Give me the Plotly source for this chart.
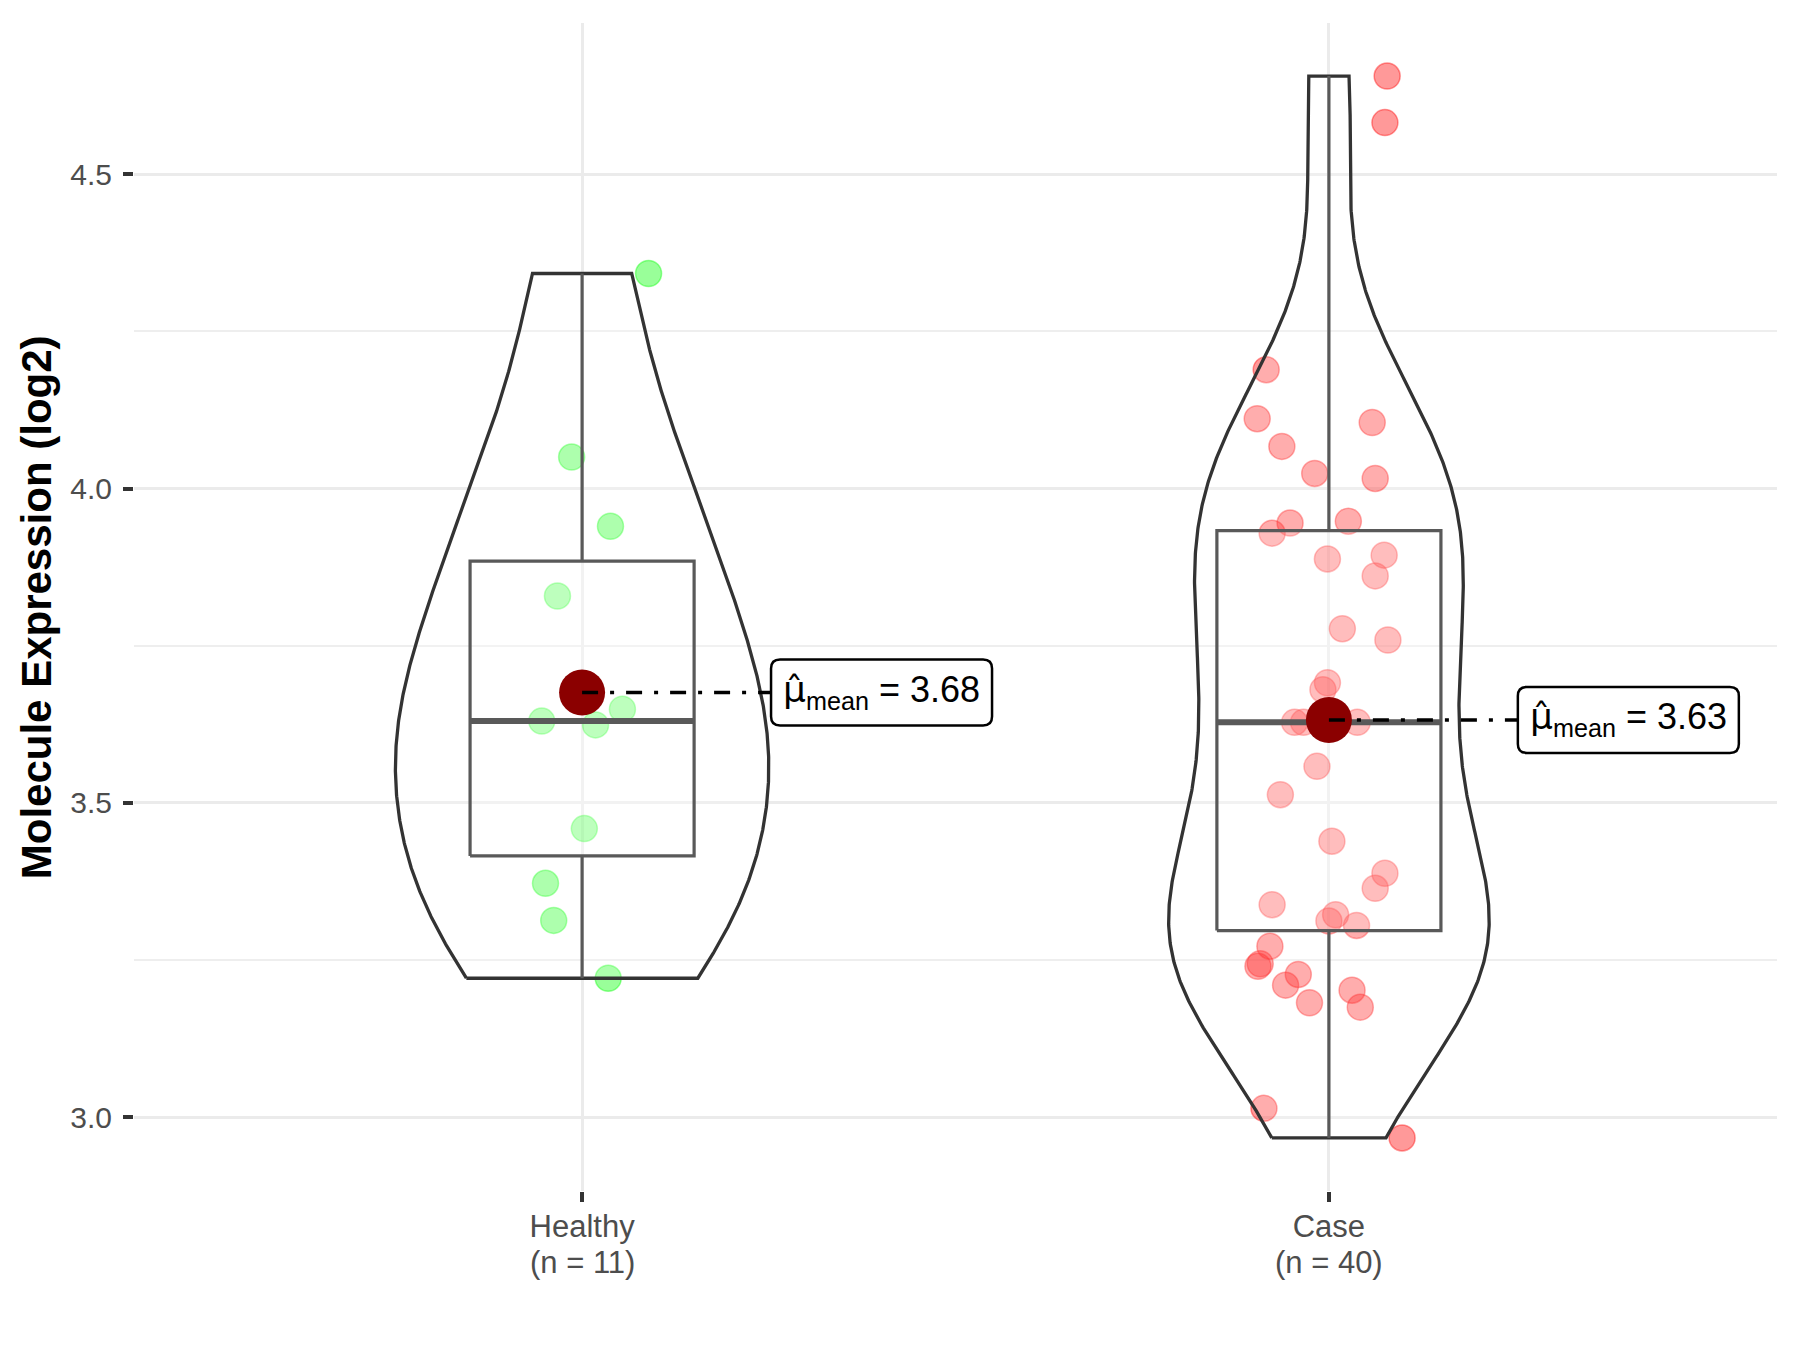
import numpy as np
import plotly.graph_objects as go

# ---------------- data ----------------
categories = ["Healthy", "Case"]
y_ticks = [3.0, 3.5, 4.0, 4.5]

healthy_values = [4.342, 4.050, 3.940, 3.829, 3.649, 3.630, 3.624, 3.459, 3.372, 3.313, 3.221]
healthy_jitter = [0.089, -0.014, 0.038, -0.033, 0.054, -0.054, 0.018, 0.003, -0.049, -0.038, 0.035]

case_values = [4.656, 4.582, 4.189, 4.111, 4.105, 4.067, 4.024, 4.016, 3.945, 3.929,
               3.948, 3.888, 3.894, 3.861, 3.777, 3.759, 3.691, 3.680, 3.628, 3.628,
               3.628, 3.558, 3.513, 3.439, 3.388, 3.364, 3.338, 3.322, 3.312, 3.305,
               3.272, 3.244, 3.240, 3.227, 3.210, 3.202, 3.182, 3.175, 3.014, 2.967]
case_jitter = [0.078, 0.075, -0.084, -0.096, 0.058, -0.063, -0.019, 0.062, -0.052, -0.076,
               0.026, -0.002, 0.074, 0.062, 0.018, 0.079, -0.002, -0.008, -0.046, -0.034,
               0.038, -0.016, -0.065, 0.004, 0.075, 0.062, -0.076, 0.009, 0.000, 0.037,
               -0.079, -0.092, -0.095, -0.041, -0.058, 0.031, -0.026, 0.042, -0.087, 0.098]

# ---------------- style ----------------
FONT = "Liberation Sans, Arial, sans-serif"
point_rgb = {"Healthy": "0,255,0", "Case": "255,0,0"}
label_offset = 0.253
violin_width = 0.5
box_width = 0.3
LABEL_W, LABEL_H, LABEL_R = 221, 66, 9

groups = [
    ("Healthy", 1, np.array(healthy_values), np.array(healthy_jitter)),
    ("Case", 2, np.array(case_values), np.array(case_jitter)),
]


def kde(vals, n=512):
    sd = vals.std(ddof=1)
    q75, q25 = np.percentile(vals, [75, 25])
    lo = min(sd, (q75 - q25) / 1.34)
    bw = 0.9 * lo * len(vals) ** -0.2
    grid = np.linspace(vals.min(), vals.max(), n)
    d = np.exp(-0.5 * ((grid[:, None] - vals[None, :]) / bw) ** 2).sum(1)
    d /= len(vals) * bw * np.sqrt(2 * np.pi)
    return grid, d


def rounded_rect(w, h, r):
    hh = h / 2
    return (f"M {r},{-hh} L {w - r},{-hh} Q {w},{-hh} {w},{-hh + r} "
            f"L {w},{hh - r} Q {w},{hh} {w - r},{hh} L {r},{hh} "
            f"Q 0,{hh} 0,{hh - r} L 0,{-hh + r} Q 0,{-hh} {r},{-hh} Z")


dens = {name: kde(v) for name, _, v, _ in groups}
gmax = max(d.max() for _, d in dens.values())

fig = go.Figure()

# jittered points (bottom layer)
for name, pos, vals, jit in groups:
    rgb = point_rgb[name]
    fig.add_trace(go.Scatter(
        x=pos + jit, y=vals, mode="markers",
        marker=dict(size=26, color=f"rgba({rgb},0.4)",
                    line=dict(color=f"rgba({rgb},0.4)", width=1.5)),
        showlegend=False, hoverinfo="y"))

# violins
for name, pos, vals, jit in groups:
    grid, d = dens[name]
    half = d / gmax * violin_width / 2
    xs = np.concatenate([pos - half, (pos + half)[::-1], [pos - half[0]]])
    ys = np.concatenate([grid, grid[::-1], [grid[0]]])
    fig.add_trace(go.Scatter(
        x=xs, y=ys, mode="lines", fill="toself",
        fillcolor="rgba(255,255,255,0.2)",
        line=dict(color="#333333", width=3.3),
        showlegend=False, hoverinfo="skip"))

# boxplots
for name, pos, vals, jit in groups:
    q1, med, q3 = np.percentile(vals, [25, 50, 75])
    iqr = q3 - q1
    upper = vals[vals <= q3 + 1.5 * iqr].max()
    lower = vals[vals >= q1 - 1.5 * iqr].min()
    hw = box_width / 2
    fig.add_trace(go.Scatter(
        x=[pos - hw, pos + hw, pos + hw, pos - hw, pos - hw],
        y=[q1, q1, q3, q3, q1], mode="lines", fill="toself",
        fillcolor="rgba(255,255,255,0.2)",
        line=dict(color="#595959", width=3.2),
        showlegend=False, hoverinfo="skip"))
    for a, b in [(q3, upper), (q1, lower)]:
        fig.add_trace(go.Scatter(
            x=[pos, pos], y=[a, b], mode="lines",
            line=dict(color="#595959", width=3.2),
            showlegend=False, hoverinfo="skip"))
    fig.add_trace(go.Scatter(
        x=[pos - hw, pos + hw], y=[med, med], mode="lines",
        line=dict(color="#595959", width=6),
        showlegend=False, hoverinfo="skip"))

# means
for name, pos, vals, jit in groups:
    m = vals.mean()
    fig.add_trace(go.Scatter(
        x=[pos], y=[m], mode="markers",
        marker=dict(size=46, color="#8B0000"),
        showlegend=False, hoverinfo="y"))
    fig.add_trace(go.Scatter(
        x=[pos, pos + label_offset], y=[m, m], mode="lines",
        line=dict(color="black", width=3.5, dash="16px,12px,4px,12px"),
        showlegend=False, hoverinfo="skip"))
    fig.add_shape(
        type="path", xref="x", yref="y", xsizemode="pixel", ysizemode="pixel",
        xanchor=pos + label_offset, yanchor=m,
        path=rounded_rect(LABEL_W, LABEL_H, LABEL_R),
        fillcolor="white", line=dict(color="black", width=2.5), layer="above")
    fig.add_annotation(
        x=pos + label_offset, y=m, xref="x", yref="y",
        xanchor="center", yanchor="middle", xshift=LABEL_W / 2, yshift=1,
        showarrow=False,
        text=(f'<span style="font-family:DejaVu Sans">μ\u0302</span>'
              f"<sub>mean</sub> = {m:.2f}"),
        font=dict(family=FONT, size=36, color="black"))

# second line of the x tick labels: group sizes
for name, pos, vals, jit in groups:
    fig.add_annotation(
        x=pos, y=-0.0616, xref="x", yref="paper",
        xanchor="center", yanchor="middle", showarrow=False,
        text=f"(n = {len(vals)})",
        font=dict(family=FONT, size=31, color="#4D4D4D"))

# y axis title
fig.add_annotation(
    x=-0.0595, y=0.5, xref="paper", yref="paper",
    xanchor="center", yanchor="middle", showarrow=False, textangle=-90,
    text="<b>Molecule Expression (log2)</b>",
    font=dict(family=FONT, size=42, color="black"))

all_vals = np.concatenate([v for _, _, v, _ in groups])
span = all_vals.max() - all_vals.min()
yrange = [all_vals.min() - 0.05 * span, all_vals.max() + 0.05 * span]

fig.update_layout(
    width=1784, height=1334,
    margin=dict(l=126, r=15, t=15, b=151),
    plot_bgcolor="white", paper_bgcolor="white",
    font=dict(family=FONT, size=31, color="#4D4D4D"),
    showlegend=False,
    xaxis=dict(
        range=[0.4, 2.6], tickmode="array", tickvals=[1, 2], ticktext=categories,
        showgrid=True, gridcolor="#EBEBEB", gridwidth=3, zeroline=False,
        ticks="outside", ticklen=10, tickwidth=3.5, tickcolor="#333333",
        ticklabelstandoff=-2,
        tickfont=dict(family=FONT, size=31, color="#4D4D4D"),
        showline=False, fixedrange=True),
    yaxis=dict(
        range=yrange, tickmode="array", tickvals=y_ticks,
        ticktext=[f"{t:.1f}" for t in y_ticks],
        showgrid=True, gridcolor="#EBEBEB", gridwidth=3, zeroline=False,
        ticks="outside", ticklen=10, tickwidth=3.5, tickcolor="#333333",
        ticklabelstandoff=5,
        tickfont=dict(family=FONT, size=30, color="#4D4D4D"),
        minor=dict(tickmode="array", tickvals=[3.25, 3.75, 4.25], showgrid=True,
                   gridcolor="#EEEEEE", gridwidth=1.8, ticks=""),
        showline=False, fixedrange=True),
)

fig.write_html("out.html")
